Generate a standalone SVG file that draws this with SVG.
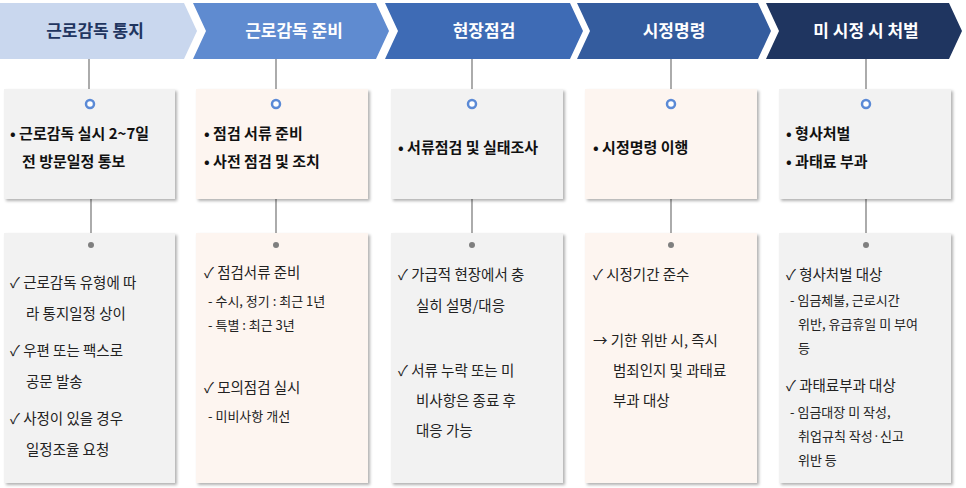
<svg xmlns="http://www.w3.org/2000/svg" width="966" height="488" viewBox="0 0 966 488">
<style>
text{font-family:"Noto Sans CJK KR","Noto Sans",sans-serif;}
.t{font-size:17px;font-weight:bold;text-anchor:middle;}
.b{font-size:15px;font-weight:bold;fill:#111;}
.r{font-size:14.5px;fill:#222;}
.s{font-size:13px;fill:#222;}
.g{fill:#F2F2F2;filter:url(#sh);}
.p{fill:#FDF5F0;filter:url(#sh);}
.ln{stroke:#7F7F7F;stroke-width:1.3;}
</style>
<defs><filter id="sh" x="-5%" y="-5%" width="115%" height="115%"><feDropShadow dx="2" dy="2" stdDeviation="1.5" flood-color="#000" flood-opacity="0.3"/></filter></defs>
<rect width="966" height="488" fill="#fff"/>
<g id="connectors">
<line class="ln" x1="89" y1="59" x2="89" y2="89"/><line class="ln" x1="91" y1="199" x2="91" y2="233"/>
<line class="ln" x1="276" y1="59" x2="276" y2="89"/><line class="ln" x1="276" y1="199" x2="276" y2="233"/>
<line class="ln" x1="472" y1="59" x2="472" y2="89"/><line class="ln" x1="472" y1="199" x2="472" y2="233"/>
<line class="ln" x1="671" y1="59" x2="671" y2="89"/><line class="ln" x1="671" y1="199" x2="671" y2="233"/>
<line class="ln" x1="866" y1="59" x2="866" y2="89"/><line class="ln" x1="866" y1="199" x2="866" y2="233"/>
</g>
<g id="h1"><path d="M0 3H184L197 31L184 59H0Z" fill="#C9D7EE"/><text class="t" x="95" y="37" fill="#1F3560">근로감독 통지</text></g>
<g id="h2"><path d="M193 3H376L389 31L376 59H193L206 31Z" fill="#5F8BD0"/><text class="t" x="294" y="37" fill="#fff" font-weight="normal">근로감독 준비</text></g>
<g id="h3"><path d="M385 3H570L583 31L570 59H385L398 31Z" fill="#3E6BB5"/><text class="t" x="484" y="37" fill="#fff" font-weight="normal">현장점검</text></g>
<g id="h4"><path d="M577 3H758L771 31L758 59H577L590 31Z" fill="#345C9E"/><text class="t" x="674" y="37" fill="#fff" font-weight="normal">시정명령</text></g>
<g id="h5"><path d="M766 3H949L962 31L949 59H766L779 31Z" fill="#1F3560"/><text class="t" x="866" y="37" fill="#fff" font-weight="normal">미 시정 시 처벌</text></g>

<g id="u1"><rect class="g" x="4" y="89" width="171" height="110"/><circle cx="90" cy="104" r="4" fill="#fff" stroke="#5B8AD6" stroke-width="2.5"/>
<text class="b" x="10" y="139">• 근로감독 실시 2~7일</text><text class="b" x="22" y="167">전 방문일정 통보</text></g>
<g id="u2"><rect class="p" x="196" y="89" width="172" height="110"/><circle cx="276" cy="104" r="4" fill="#fff" stroke="#5B8AD6" stroke-width="2.5"/>
<text class="b" x="204" y="139">• 점검 서류 준비</text><text class="b" x="204" y="167">• 사전 점검 및 조치</text></g>
<g id="u3"><rect class="g" x="391" y="89" width="172" height="110"/><circle cx="472" cy="104" r="4" fill="#fff" stroke="#5B8AD6" stroke-width="2.5"/>
<text class="b" x="398" y="153">• 서류점검 및 실태조사</text></g>
<g id="u4"><rect class="p" x="585" y="89" width="172" height="110"/><circle cx="671" cy="104" r="4" fill="#fff" stroke="#5B8AD6" stroke-width="2.5"/>
<text class="b" x="593" y="153">• 시정명령 이행</text></g>
<g id="u5"><rect class="g" x="779" y="89" width="172" height="110"/><circle cx="866" cy="104" r="4" fill="#fff" stroke="#5B8AD6" stroke-width="2.5"/>
<text class="b" x="786" y="139">• 형사처벌</text><text class="b" x="786" y="167">• 과태료 부과</text></g>

<g id="l1"><rect class="g" x="4" y="233" width="171" height="250"/><circle cx="91" cy="245" r="3" fill="#7F7F7F"/>
<text class="r" x="10" y="288">✓ 근로감독 유형에 따</text><text class="r" x="26" y="319">라 통지일정 상이</text>
<text class="r" x="10" y="356">✓ 우편 또는 팩스로</text><text class="r" x="26" y="387">공문 발송</text>
<text class="r" x="10" y="424">✓ 사정이 있을 경우</text><text class="r" x="26" y="455">일정조율 요청</text></g>
<g id="l2"><rect class="p" x="196" y="233" width="172" height="250"/><circle cx="276" cy="245" r="3" fill="#7F7F7F"/>
<text class="r" x="204" y="278">✓ 점검서류 준비</text><text class="s" x="208" y="306">- 수시, 정기 : 최근 1년</text><text class="s" x="208" y="330">- 특별 : 최근 3년</text>
<text class="r" x="204" y="393">✓ 모의점검 실시</text><text class="s" x="208" y="421">- 미비사항 개선</text></g>
<g id="l3"><rect class="g" x="391" y="233" width="172" height="250"/><circle cx="472" cy="245" r="3" fill="#7F7F7F"/>
<text class="r" x="398" y="280">✓ 가급적 현장에서 충</text><text class="r" x="416" y="311">실히 설명/대응</text>
<text class="r" x="398" y="376">✓ 서류 누락 또는 미</text><text class="r" x="416" y="406">비사항은 종료 후</text><text class="r" x="416" y="436">대응 가능</text></g>
<g id="l4"><rect class="p" x="585" y="233" width="172" height="250"/><circle cx="671" cy="245" r="3" fill="#7F7F7F"/>
<text class="r" x="593" y="280">✓ 시정기간 준수</text>
<text class="r" x="593" y="346">→ 기한 위반 시, 즉시</text><text class="r" x="613" y="376">범죄인지 및 과태료</text><text class="r" x="613" y="406">부과 대상</text></g>
<g id="l5"><rect class="g" x="779" y="233" width="172" height="250"/><circle cx="866" cy="245" r="3" fill="#7F7F7F"/>
<text class="r" x="786" y="280">✓ 형사처벌 대상</text><text class="s" x="790" y="305">- 임금체불, 근로시간</text><text class="s" x="798" y="329">위반, 유급휴일 미 부여</text><text class="s" x="798" y="353">등</text>
<text class="r" x="786" y="391">✓ 과태료부과 대상</text><text class="s" x="790" y="417">- 임금대장 미 작성,</text><text class="s" x="798" y="441">취업규칙 작성·신고</text><text class="s" x="798" y="465">위반 등</text></g>
</svg>
